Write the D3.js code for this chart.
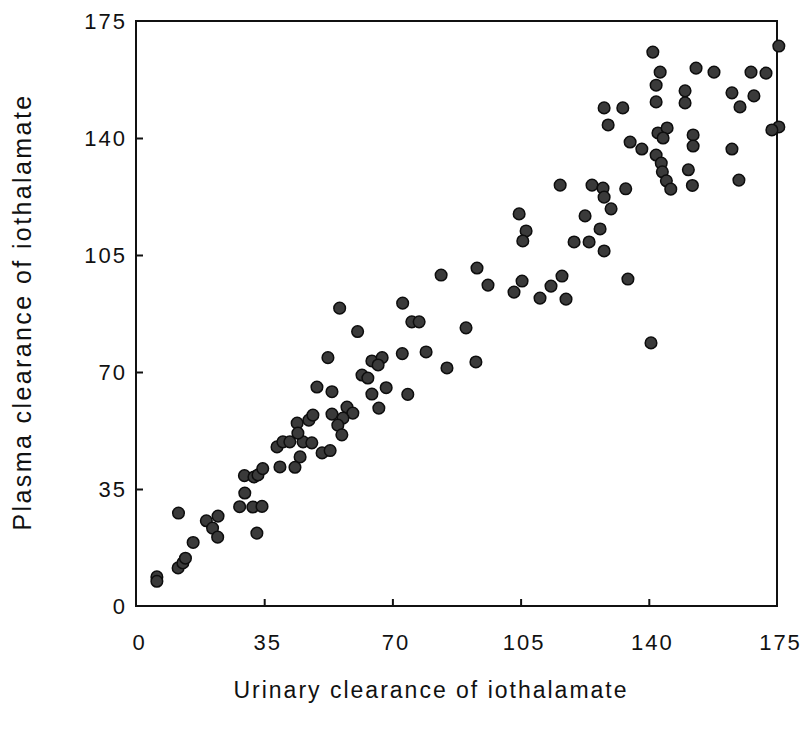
<!DOCTYPE html>
<html>
<head>
<meta charset="utf-8">
<script src="https://cdn.jsdelivr.net/npm/d3@7"></script>
<style>
  html, body { margin: 0; padding: 0; background: #fff; }
  svg { display: block; }
  text { font-family: "Liberation Sans", Arial, Helvetica, sans-serif; fill: #111; }
</style>
</head>
<body>
<div id="chart"></div>
<script>
// Urinary vs plasma clearance of iothalamate, one point per measurement
const urinary = [
  5.7, 5.7, 11.6, 11.5, 12.8, 13.5, 15.6, 19.2, 20.9, 22.3,
  22.4, 28.3, 29.7, 29.6, 32.2, 33.3, 34.6, 31.9, 34.4, 33.0,
  39.3, 43.4, 38.5, 40.1, 42.0, 45.6, 48.0, 44.8, 44.0, 44.2,
  50.8, 53.0, 47.2, 48.3, 53.5, 57.6, 59.2, 56.5, 55.1, 56.2,
  49.4, 53.5, 52.4, 55.6, 60.5, 61.7, 63.3, 64.4, 67.2, 66.1,
  64.4, 68.3, 66.3, 72.8, 72.7, 74.2, 75.3, 77.3, 79.2, 83.3,
  84.9, 90.1, 92.8, 93.1, 96.1, 103.2, 105.4, 110.3, 113.3, 116.3,
  117.4, 104.6, 106.5, 105.6, 115.8, 119.6, 123.7, 122.6, 124.5, 127.5,
  127.8, 126.7, 127.8, 129.7, 133.7, 134.3, 140.6, 127.8, 132.9, 128.9,
  134.9, 138.1, 141.1, 143.1, 142.0, 142.0, 142.5, 145.0, 143.9, 142.0,
  143.4, 143.7, 144.8, 146.0, 149.9, 149.9, 152.1, 152.1, 150.8, 151.9,
  152.9, 157.8, 162.7, 164.9, 168.7, 167.9, 172.0, 162.7, 164.6, 175.5,
  175.5, 173.6
];
const plasma = [
  8.7, 7.4, 27.8, 11.4, 12.9, 14.3, 19.0, 25.5, 23.3, 20.6,
  26.9, 29.7, 33.8, 39.0, 38.6, 39.2, 41.1, 29.6, 29.8, 21.8,
  41.6, 41.5, 47.6, 49.1, 49.1, 49.1, 48.8, 44.6, 54.7, 51.7,
  45.8, 46.5, 55.6, 57.1, 57.4, 59.5, 57.7, 56.2, 54.1, 51.2,
  65.5, 64.1, 74.3, 89.1, 82.1, 69.1, 68.2, 73.3, 74.3, 72.1,
  63.4, 65.3, 59.2, 90.6, 75.5, 63.3, 85.0, 85.0, 76.0, 99.0,
  71.2, 83.2, 73.0, 101.1, 96.0, 93.9, 97.2, 92.1, 95.7, 98.7,
  91.8, 117.3, 112.2, 109.2, 125.9, 108.9, 108.9, 116.7, 125.9, 125.0,
  122.3, 112.8, 106.2, 118.8, 124.8, 97.8, 78.7, 149.0, 149.0, 143.9,
  138.8, 136.7, 165.7, 159.7, 155.8, 150.8, 141.5, 143.0, 140.0, 134.9,
  132.5, 129.9, 127.2, 124.7, 154.1, 150.5, 140.9, 137.6, 130.5, 125.8,
  160.9, 159.7, 153.5, 149.3, 152.6, 159.7, 159.4, 136.7, 127.4, 167.5,
  143.3, 142.4
];
const tickValues = [0, 35, 70, 105, 140, 175];
const xTitle = "Urinary clearance of iothalamate";
const yTitle = "Plasma clearance of iothalamate";

const W = 801, H = 733;
const margin = { left: 136, top: 21, right: 24, bottom: 127 };
const innerW = W - margin.left - margin.right;
const innerH = H - margin.top - margin.bottom;

const svg = d3.select("#chart").append("svg")
  .attr("width", W).attr("height", H);

const x = d3.scaleLinear().domain([0, 175]).range([margin.left, margin.left + innerW]);
const y = d3.scaleLinear().domain([0, 175]).range([margin.top + innerH, margin.top]);

// Bottom axis: inward ticks, labels below
const gx = svg.append("g")
  .attr("transform", `translate(0,${y(0)})`)
  .call(d3.axisBottom(x).tickValues(tickValues).tickSizeInner(-7).tickSizeOuter(0).tickPadding(28));
gx.select(".domain").remove();
gx.selectAll(".tick text")
  .attr("font-size", 22).style("letter-spacing", "2px").attr("dx", 3);

// Left axis: inward ticks, labels to the left
const gy = svg.append("g")
  .attr("transform", `translate(${x(0)},0)`)
  .call(d3.axisLeft(y).tickValues(tickValues).tickSizeInner(-7).tickSizeOuter(0).tickPadding(9));
gy.select(".domain").remove();
gy.selectAll(".tick text")
  .attr("font-size", 22).style("letter-spacing", "2px");

[gx, gy].forEach(g => {
  g.selectAll(".tick line").attr("stroke", "#111").attr("stroke-width", 2);
  g.selectAll(".tick").filter(d => d === 0 || d === 175).select("line").remove();
});

// Plot frame
svg.append("rect")
  .attr("x", x(0)).attr("y", y(175))
  .attr("width", x(175) - x(0)).attr("height", y(0) - y(175))
  .attr("fill", "none").attr("stroke", "#111").attr("stroke-width", 2);

// Points
svg.append("g").selectAll("circle")
  .data(d3.range(urinary.length))
  .join("circle")
  .attr("cx", i => x(urinary[i]))
  .attr("cy", i => y(plasma[i]))
  .attr("r", 5.8)
  .attr("fill", "#3a3a3a")
  .attr("stroke", "#0d0d0d")
  .attr("stroke-width", 1.5);

// Axis titles
svg.append("text")
  .attr("x", 431).attr("y", 698)
  .attr("text-anchor", "middle")
  .attr("font-size", 23).style("letter-spacing", "2px")
  .text(xTitle);

svg.append("text")
  .attr("transform", `translate(31,${312}) rotate(-90)`)
  .attr("text-anchor", "middle")
  .attr("font-size", 25).style("letter-spacing", "2.4px")
  .text(yTitle);
</script>
</body>
</html>
